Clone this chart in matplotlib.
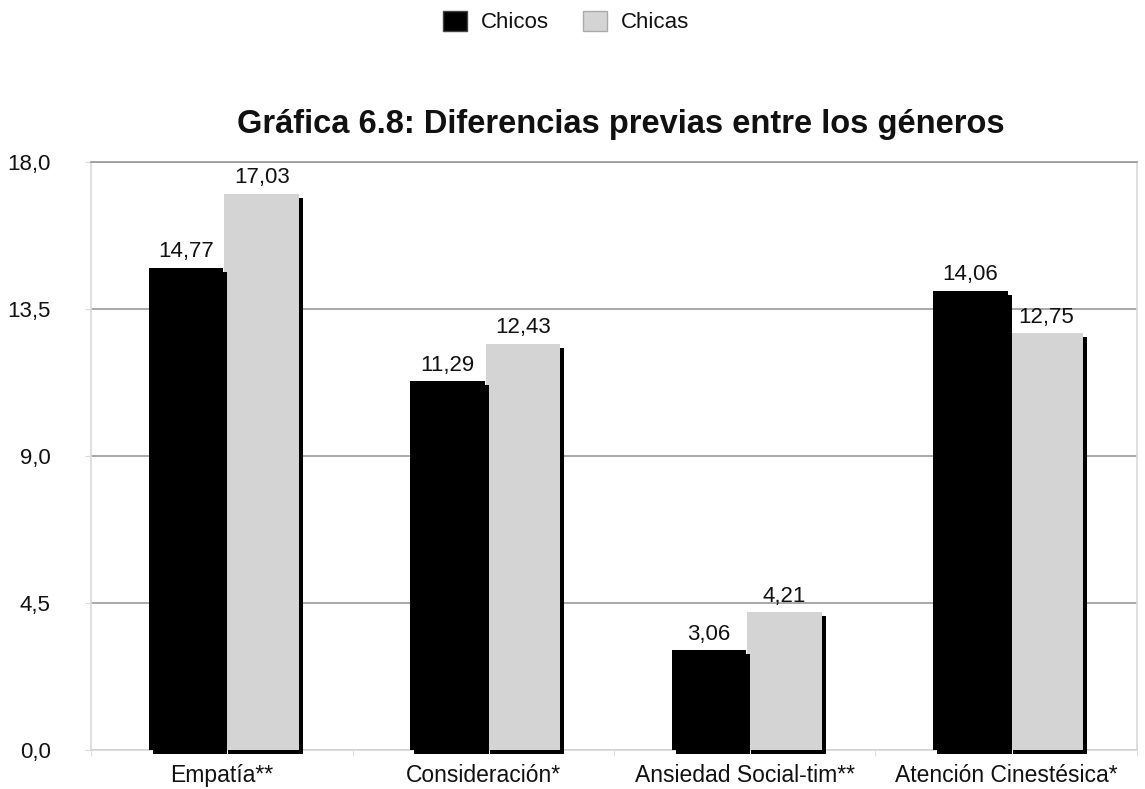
import matplotlib
matplotlib.use("Agg")
import matplotlib.pyplot as plt
import numpy as np
from matplotlib.transforms import ScaledTranslation
from matplotlib.patches import Patch

plt.rcParams['font.family'] = ['Liberation Sans', 'DejaVu Sans']

categories = ["Empatía**", "Consideración*", "Ansiedad Social-tim**", "Atención Cinestésica*"]
chicos = [14.77, 11.29, 3.06, 14.06]
chicas = [17.03, 12.43, 4.21, 12.75]
yticks = [0.0, 4.5, 9.0, 13.5, 18.0]
ytick_labels = ["0,0", "4,5", "9,0", "13,5", "18,0"]
title = "Gráfica 6.8: Diferencias previas entre los géneros"

black = "#000000"
grey = "#d4d4d4"
txt = "#111111"

fig = plt.figure(figsize=(11.45, 7.89), dpi=100)
ax = fig.add_axes([0.0795, 0.0494, 0.9135, 0.7453])

x = np.arange(len(categories))
w = 0.285
xb = x - w / 2 + 0.005
xg = x + w / 2 + 0.01

# drop shadow offset: 4 px right, 4 px down
shadow = ScaledTranslation(4 / 100, -4 / 100, fig.dpi_scale_trans)

def draw(xs, vals, color, z):
    sh = ax.bar(xs, vals, w, color=black, zorder=z, clip_on=False, linewidth=0)
    for p in sh.patches:
        p.set_transform(ax.transData + shadow)
    ax.bar(xs, vals, w, color=color, zorder=z + 0.5, clip_on=False, linewidth=0)

draw(xg, chicas, grey, 3)
draw(xb, chicos, black, 4)

fmt = lambda v: f"{v:.2f}".replace(".", ",")
for xs, vals in ((xb, chicos), (xg, chicas)):
    for xi, v in zip(xs, vals):
        ax.annotate(fmt(v), (xi, v), xytext=(0, 4), textcoords="offset points",
                    ha="center", va="bottom", fontsize=16, color=txt, zorder=6)

ax.set_xlim(-0.5, len(categories) - 0.5)
ax.set_ylim(0, 18)
ax.set_yticks(yticks)
ax.set_yticklabels(ytick_labels, fontsize=16)
ax.yaxis.grid(True, color="#9a9a9a", linewidth=1.2)
ax.set_axisbelow(True)
ax.tick_params(axis="y", length=4, color="#d9d9d9", pad=25, labelcolor=txt)

ax.set_xticks(x)
ax.set_xticklabels(categories, fontsize=16.5, color=txt)
ax.set_xticks(np.arange(len(categories) + 1) - 0.5, minor=True)
ax.tick_params(axis="x", which="major", length=0, pad=10)
ax.tick_params(axis="x", which="minor", length=4, color="#d9d9d9")

for s in ("left", "bottom", "right"):
    ax.spines[s].set_color("#d9d9d9")
    ax.spines[s].set_linewidth(1.2)
ax.spines["top"].set_color("#9a9a9a")
ax.spines["top"].set_linewidth(1.2)

fig.text(0.5424, 0.842, title, ha="center", va="center", fontsize=23.5,
         fontweight="bold", color=txt)

handles = [Patch(facecolor=black, edgecolor="#444444", label="Chicos"),
           Patch(facecolor=grey, edgecolor="#aaaaaa", label="Chicas")]
fig.legend(handles=handles, loc="center", bbox_to_anchor=(0.4945, 0.972), ncol=2,
           frameon=False, fontsize=16, handlelength=1.05, handleheight=1.0,
           columnspacing=1.55, handletextpad=0.64, labelcolor=txt)

fig.savefig("out.png", dpi=100)
